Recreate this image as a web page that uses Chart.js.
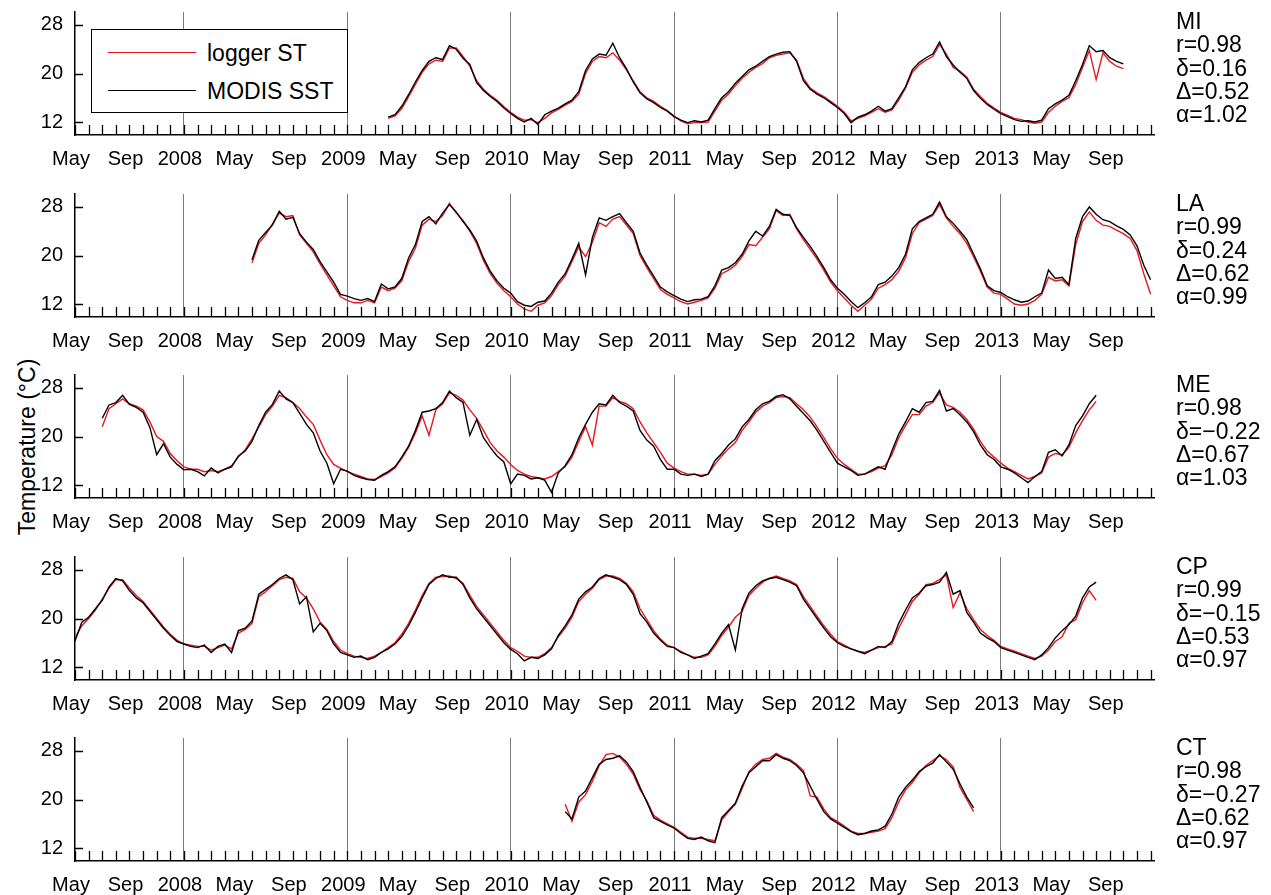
<!DOCTYPE html>
<html>
<head>
<meta charset="utf-8">
<title>logger ST vs MODIS SST</title>
<script src="https://cdn.jsdelivr.net/npm/chart.js@4"></script>
<style>
  body { margin: 0; background: #fff; font-family: "Liberation Sans", Arial, sans-serif; color: #000; }
  #wrap { position: relative; width: 1271px; height: 895px; overflow: hidden; }
  .panel { position: absolute; left: 0; }
  .stats { position: absolute; left: 1176px; font-size: 23px; line-height: 23.3px; white-space: pre; }
  #ytitle { position: absolute; left: 27px; top: 447px; font-size: 23px; white-space: nowrap;
            transform: translate(-50%, -50%) rotate(-90deg); }
  #legend { position: absolute; left: 91px; top: 29px; width: 255px; height: 82px;
            border: 1.5px solid #000; background: #fff; }
  .lg-row { position: absolute; left: 16px; height: 24px; font-size: 23px; line-height: 24px; white-space: nowrap; }
  .lg-row span.swatch { position: absolute; left: 0; top: 11px; width: 88px; height: 0; border-top: 1.5px solid; }
  .lg-row span.txt { position: absolute; left: 99px; top: 0; }
</style>
</head>
<body>
<div id="wrap">
  <div id="ytitle">Temperature (°C)</div>
</div>
<script>
// ==========================
// Data (x = months since Jan 2007, one value every half month)
// ==========================
const step = 0.5;
const sites = ['MI', 'LA', 'ME', 'CP', 'CT'];
const startMonth = [27, 17, 6, 4, 40];

const miModis = [12.8,13.2,14.6,16.5,18.6,20.5,22.0,22.6,22.3,24.6,
  24.0,22.5,21.5,18.5,17.2,16.2,15.4,14.3,13.4,12.6,
  12.0,12.6,11.6,13.2,13.8,14.3,15.0,15.6,17.0,20.5,
  22.4,23.2,23.0,25.0,22.6,20.8,18.6,16.8,15.8,15.2,
  14.4,13.8,12.9,12.3,11.9,12.2,12.0,12.3,14.2,16.0,
  17.0,18.4,19.5,20.6,21.2,22.0,22.8,23.2,23.5,23.6,
  22.0,18.8,17.4,16.6,16.0,15.2,14.4,13.4,11.9,12.8,
  13.2,13.8,14.6,13.8,14.2,16.0,17.8,20.6,21.8,22.6,
  23.2,25.2,22.8,21.4,20.2,19.2,17.2,15.9,14.9,14.1,
  13.4,12.9,12.4,12.1,12.2,12.0,12.3,14.2,15.0,15.6,
  16.4,18.8,21.5,24.6,23.6,23.8,22.6,22.0,21.6];
const miLogger = [12.6,13.0,14.2,16.2,18.2,20.2,21.6,22.2,22.0,24.2,
  24.2,22.8,21.2,18.8,17.4,16.4,15.6,14.5,13.6,12.8,
  12.3,12.4,11.9,12.6,13.5,14.1,14.8,15.4,16.6,20.0,
  22.0,22.8,22.6,23.4,22.2,20.6,18.8,17.0,16.0,15.4,
  14.6,13.9,13.0,12.2,11.7,11.9,11.9,12.0,13.8,15.6,
  16.6,18.0,19.2,20.2,21.0,21.6,22.6,23.0,23.2,23.4,
  22.2,19.2,17.6,16.8,16.2,15.4,14.6,13.6,12.2,12.6,
  13.0,13.6,14.2,13.6,14.0,15.6,17.6,20.2,21.4,22.2,
  22.8,24.8,23.2,21.0,20.4,19.4,17.4,16.2,15.1,14.3,
  13.6,13.1,12.6,12.4,12.0,11.8,12.0,13.6,14.6,15.4,
  16.0,18.2,21.0,23.8,19.0,23.4,22.0,21.2,20.8];

const laModis = [19.3,22.5,23.8,25.0,27.3,26.0,26.3,23.6,22.2,21.0,
  19.0,17.3,15.6,13.6,13.3,12.9,12.6,12.9,12.4,15.3,
  14.5,14.8,16.2,19.6,21.8,25.6,26.4,25.2,27.0,28.4,
  27.2,25.6,24.2,22.4,19.6,17.4,15.8,14.6,13.8,12.4,
  11.8,11.6,12.3,12.5,13.8,15.6,17.0,19.4,22.0,16.8,
  23.0,26.2,25.8,26.4,26.9,25.4,24.0,20.4,18.4,16.6,
  14.8,14.0,13.4,12.8,12.4,12.7,12.8,13.2,15.0,17.6,
  18.0,18.8,20.2,22.4,24.0,23.2,24.8,27.6,26.8,26.6,
  24.6,23.0,21.5,19.8,18.0,16.0,14.6,13.6,12.4,11.4,
  12.2,13.2,15.2,15.6,16.6,18.0,20.2,24.4,25.6,26.2,
  26.8,28.8,26.4,25.3,24.0,22.6,20.2,17.8,15.0,14.2,
  13.9,13.2,12.7,12.3,12.5,13.2,13.8,17.6,16.2,16.4,
  15.2,22.8,26.4,28.0,26.8,25.9,25.6,24.9,24.3,23.4,
  21.6,18.4,16.0];
const laLogger = [18.8,22.0,23.4,25.2,27.0,26.4,26.6,23.4,22.0,20.6,
  18.6,16.8,15.0,13.2,12.6,12.2,12.2,12.6,12.2,14.8,
  14.2,14.6,15.8,19.0,21.2,25.0,26.0,25.6,26.6,28.6,
  27.0,25.8,24.0,22.0,19.2,17.0,15.4,14.2,13.2,12.0,
  11.2,10.8,11.8,12.2,13.4,15.2,16.6,19.0,21.4,19.8,
  22.2,25.4,24.8,26.0,26.4,25.0,23.6,20.0,18.0,16.2,
  14.4,13.6,13.0,12.4,12.0,12.3,12.6,13.0,14.6,17.0,
  17.6,18.4,19.8,21.8,21.6,23.0,24.4,27.4,26.6,26.8,
  24.4,22.6,21.0,19.4,17.6,15.6,14.2,13.0,11.8,10.8,
  11.8,12.8,14.6,15.2,16.0,17.4,19.6,23.6,25.4,26.0,
  26.6,28.4,26.2,24.8,23.6,22.0,19.8,17.4,14.8,13.8,
  13.6,12.8,12.0,11.8,12.0,12.6,13.6,16.4,15.8,16.0,
  15.0,21.8,25.6,27.2,25.8,25.0,24.8,24.2,23.6,22.8,
  20.8,17.0,13.6];

const meModis = [23.0,25.2,25.6,26.8,25.3,24.8,24.0,21.5,17.0,18.8,
  16.6,15.4,14.5,14.6,14.2,13.5,14.8,14.0,14.6,15.0,
  16.8,17.6,19.2,21.8,24.0,25.3,27.5,26.2,25.6,23.8,
  22.0,20.6,17.6,15.6,12.2,14.6,14.3,13.6,13.2,12.9,
  12.8,13.6,14.2,15.0,16.6,18.4,21.0,24.0,24.2,24.6,
  25.6,27.5,26.4,25.6,20.2,22.8,19.8,18.2,16.8,15.8,
  12.2,13.8,13.6,13.0,13.2,12.8,10.8,14.0,15.2,17.0,
  19.8,22.0,24.0,25.4,25.2,26.8,25.6,25.0,24.2,21.0,
  19.4,18.4,16.2,14.6,14.6,13.8,13.6,13.8,13.4,13.8,
  16.0,17.2,18.6,19.6,21.6,22.8,24.4,25.4,25.8,26.6,
  26.9,26.2,25.0,23.8,22.6,21.0,19.2,17.4,15.6,15.0,
  14.4,13.6,13.8,14.4,15.0,14.6,17.6,20.4,22.4,24.6,
  24.0,25.6,25.8,27.6,24.2,24.6,23.6,22.4,20.8,18.6,
  17.0,16.2,15.0,14.6,14.0,13.2,12.4,13.4,14.2,17.4,
  17.8,16.8,18.6,21.8,23.4,25.4,26.8];
const meLogger = [21.6,24.6,25.4,26.2,25.4,25.0,24.4,22.4,20.0,19.2,
  17.2,16.0,15.0,14.6,14.6,14.2,14.4,14.2,14.6,15.2,
  16.6,17.8,19.6,21.6,23.6,25.0,26.8,26.4,25.6,24.6,
  23.2,22.0,19.4,17.0,15.4,14.8,14.2,13.8,13.4,13.0,
  12.9,13.4,14.0,14.8,16.4,18.2,20.6,23.4,20.2,24.4,
  25.4,27.2,26.8,26.0,24.4,23.0,21.0,19.0,17.6,16.6,
  15.4,14.4,13.8,13.4,13.2,13.0,13.4,14.2,15.0,16.6,
  19.2,21.6,18.6,25.0,25.0,26.4,25.8,25.4,24.6,22.4,
  20.6,19.0,17.4,15.6,14.8,14.2,13.8,13.8,13.6,13.8,
  15.4,16.8,18.0,19.0,21.0,22.4,24.0,25.0,25.6,26.4,
  26.6,26.4,25.4,24.4,23.2,21.6,19.8,18.0,16.4,15.4,
  14.6,13.8,13.8,14.2,14.8,15.2,17.0,19.8,21.8,23.6,
  23.6,25.0,25.6,27.2,25.2,24.8,24.0,22.8,21.2,19.2,
  17.6,16.6,15.6,14.8,14.2,13.6,13.0,13.4,14.0,16.6,
  17.2,17.0,18.2,20.6,22.6,24.4,25.8];

const cpModis = [16.3,19.4,20.2,21.6,23.0,25.2,26.6,26.2,24.6,23.4,
  22.6,21.2,19.8,18.4,17.2,16.2,15.8,15.4,15.2,15.6,
  14.4,15.4,15.8,14.4,18.0,18.4,19.6,24.0,24.8,25.6,
  26.6,27.2,26.4,22.4,23.6,17.8,19.2,18.0,15.8,14.4,
  14.0,13.6,13.8,13.2,13.6,14.4,15.0,15.8,17.0,18.8,
  21.0,23.4,25.6,26.6,27.2,26.8,26.8,25.6,23.4,21.6,
  20.2,18.8,17.4,16.0,14.9,14.2,13.0,13.6,13.4,14.0,
  15.0,17.2,18.8,20.6,23.2,24.4,25.2,26.6,27.2,26.8,
  26.4,25.6,24.0,20.8,19.4,17.6,16.4,15.4,15.2,14.4,
  14.0,13.4,13.8,14.2,15.8,17.6,19.0,14.8,21.6,24.2,
  25.4,26.2,26.6,26.8,26.4,26.0,25.4,23.2,21.6,20.0,
  18.4,17.0,16.0,15.4,15.0,14.6,14.2,14.8,15.4,15.2,
  16.2,19.2,21.4,23.4,24.2,25.4,25.6,26.0,27.6,24.0,
  24.6,21.0,19.4,17.6,16.8,16.2,15.2,14.8,14.4,14.0,
  13.6,13.2,14.0,15.2,16.8,18.0,19.0,20.4,23.4,25.2,
  26.0];
const cpLogger = [16.8,18.8,20.0,21.4,23.2,25.0,26.4,26.4,25.0,23.8,
  22.8,21.4,20.0,18.6,17.4,16.4,15.8,15.6,15.4,15.4,
  14.8,15.2,15.6,15.0,17.6,18.2,19.2,23.6,24.4,25.4,
  26.4,26.8,26.6,24.4,23.4,21.6,19.4,18.2,16.2,14.8,
  14.2,13.8,13.6,13.4,13.8,14.4,15.2,16.0,17.4,19.2,
  21.4,23.8,25.8,26.8,26.9,27.0,26.6,25.8,23.8,22.0,
  20.6,19.2,17.8,16.4,15.2,14.6,13.8,13.6,13.6,14.2,
  15.2,17.0,18.4,20.2,22.8,24.0,25.0,26.4,27.0,27.0,
  26.6,25.8,24.4,21.6,19.8,18.0,16.6,15.6,15.2,14.6,
  14.0,13.6,13.6,14.0,15.4,17.2,18.6,20.2,21.2,23.8,
  25.0,26.0,26.6,27.0,26.6,26.2,25.6,23.6,22.0,20.4,
  18.8,17.4,16.2,15.6,15.0,14.6,14.4,14.8,15.2,15.4,
  15.8,18.4,20.6,22.8,24.0,25.6,25.8,26.4,27.2,21.8,
  24.2,21.6,19.8,18.2,17.2,16.4,15.4,15.0,14.6,14.2,
  13.8,13.4,13.8,14.8,16.2,17.0,19.2,19.8,22.6,24.6,
  23.0];

const ctModis = [18.0,16.8,20.4,21.4,23.6,25.8,26.6,26.8,27.2,26.2,
  24.6,22.0,19.6,17.0,16.4,15.8,15.3,14.4,13.6,13.4,
  13.8,13.2,12.9,17.0,18.2,19.4,22.2,24.4,25.4,26.4,
  26.4,27.4,26.8,26.4,25.6,24.4,22.2,20.0,18.0,16.8,
  16.1,15.4,14.7,14.2,14.4,14.8,15.0,15.6,17.6,20.4,
  22.0,23.2,24.6,25.4,26.0,27.4,26.2,25.0,22.6,20.4,
  18.6];
const ctLogger = [19.2,16.4,19.6,20.8,23.0,25.6,27.4,27.6,27.0,25.8,
  24.2,21.6,19.8,17.4,16.6,16.0,15.4,14.6,13.8,13.6,
  13.6,13.4,13.2,16.6,18.0,19.2,21.8,24.6,25.8,26.6,
  26.8,27.6,27.0,26.6,25.8,24.8,20.6,20.4,18.4,17.0,
  16.4,15.6,14.8,14.4,14.4,14.6,14.8,15.2,17.0,19.6,
  21.6,22.8,24.4,25.6,26.4,27.2,26.6,25.4,22.0,20.0,
  18.0];

const modisSeries = [miModis, laModis, meModis, cpModis, ctModis];
const loggerSeries = [miLogger, laLogger, meLogger, cpLogger, ctLogger];

const statR = ['0.98', '0.99', '0.98', '0.99', '0.98'];
const statDelta = ['0.16', '0.24', '\u22120.22', '\u22120.15', '\u22120.27'];
const statBigDelta = ['0.52', '0.62', '0.67', '0.53', '0.62'];
const statAlpha = ['1.02', '0.99', '1.03', '0.97', '0.97'];

const yTicks = [12, 20, 28];
const monthNames = { 4: 'May', 8: 'Sep' };
const firstYear = 2007;
const xMin = 4, xMax = 83.25;

// ==========================
// Helpers
// ==========================
function toPoints(start, vals) {
  return vals.map((v, i) => ({ x: start + i * step, y: v }));
}

// ticks drawn inward like the original figure
const inwardTicks = {
  id: 'inwardTicks',
  afterDraw(chart) {
    const { ctx, chartArea, scales: { x, y } } = chart;
    ctx.save();
    ctx.strokeStyle = '#000';
    ctx.lineWidth = 1.3;
    ctx.beginPath();
    for (let m = Math.ceil(x.min); m <= x.max; m++) {
      const px = Math.round(x.getPixelForValue(m)) + 0.5;
      ctx.moveTo(px, chartArea.bottom);
      ctx.lineTo(px, chartArea.bottom - 10);
    }
    yTicks.forEach(v => {
      const py = Math.round(y.getPixelForValue(v)) + 0.5;
      ctx.moveTo(chartArea.left, py);
      ctx.lineTo(chartArea.left + 8, py);
    });
    ctx.stroke();
    ctx.restore();
  }
};

const wrap = document.getElementById('wrap');
const panelH = 182;

sites.forEach((site, k) => {
  const top = Math.round(181.5 * k);
  const canvas = document.createElement('canvas');
  canvas.className = 'panel';
  canvas.width = 1271;
  canvas.height = panelH;
  canvas.style.top = top + 'px';
  wrap.appendChild(canvas);

  new Chart(canvas.getContext('2d'), {
    type: 'line',
    data: {
      datasets: [
        {
          label: 'MODIS SST',
          data: toPoints(startMonth[k], modisSeries[k]),
          borderColor: '#000',
          borderWidth: 1.4,
          pointRadius: 0,
          tension: 0
        },
        {
          label: 'logger ST',
          data: toPoints(startMonth[k], loggerSeries[k]),
          borderColor: '#e8171d',
          borderWidth: 1.4,
          pointRadius: 0,
          tension: 0
        }
      ]
    },
    options: {
      responsive: false,
      animation: false,
      events: [],
      layout: { padding: { top: 12, right: 117, left: 0, bottom: 0 } },
      plugins: { legend: { display: false }, tooltip: { enabled: false } },
      scales: {
        x: {
          type: 'linear',
          min: xMin,
          max: xMax,
          afterFit: s => { s.height = panelH - 135; s.paddingLeft = 0; s.paddingRight = 0; },
          afterBuildTicks: s => {
            const t = [];
            for (let m = xMin; m <= xMax; m++) t.push({ value: m });
            s.ticks = t;
          },
          grid: {
            drawTicks: false,
            lineWidth: 1,
            color: c => (c.tick && c.tick.value % 12 === 0) ? '#7a7a7a' : 'rgba(0,0,0,0)'
          },
          border: { display: true, color: '#000', width: 1.5 },
          ticks: {
            autoSkip: false,
            maxRotation: 0,
            padding: 12,
            labelOffset: -4,
            color: '#000',
            font: { family: '"Liberation Sans", Arial, sans-serif', size: 20 },
            callback: v => {
              const mo = v % 12;
              if (mo === 0) return String(firstYear + v / 12);
              return monthNames[mo] || '';
            }
          }
        },
        y: {
          min: 9.86,
          max: 30.14,
          afterFit: s => { s.width = 75; s.paddingTop = 0; s.paddingBottom = 0; },
          afterBuildTicks: s => { s.ticks = yTicks.map(v => ({ value: v })); },
          grid: { drawOnChartArea: false, drawTicks: false },
          border: { display: true, color: '#000', width: 1.5 },
          ticks: {
            padding: 12,
            color: '#000',
            font: { family: '"Liberation Sans", Arial, sans-serif', size: 20 }
          }
        }
      }
    },
    plugins: [inwardTicks]
  });

  // site statistics on the right
  const st = document.createElement('div');
  st.className = 'stats';
  st.style.top = (top + 10) + 'px';
  st.textContent = site + '\nr=' + statR[k] + '\n\u03b4=' + statDelta[k] +
    '\n\u0394=' + statBigDelta[k] + '\n\u03b1=' + statAlpha[k];
  wrap.appendChild(st);
});

// ==========================
// Legend (first panel)
// ==========================
const legend = document.createElement('div');
legend.id = 'legend';
legend.innerHTML =
  '<div class="lg-row" style="top:11px"><span class="swatch" style="border-color:#e8171d"></span><span class="txt">logger ST</span></div>' +
  '<div class="lg-row" style="top:49px"><span class="swatch" style="border-color:#000"></span><span class="txt">MODIS SST</span></div>';
wrap.appendChild(legend);
</script>
</body>
</html>
